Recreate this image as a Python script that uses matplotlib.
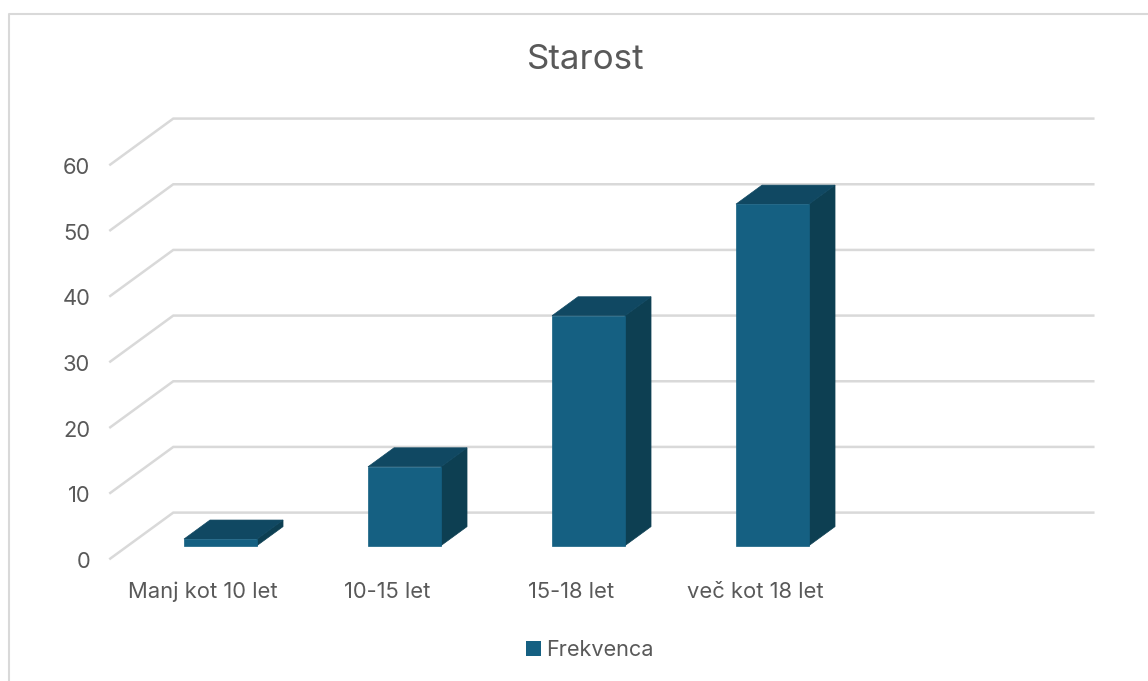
import matplotlib
matplotlib.use("Agg")
import matplotlib.pyplot as plt
from matplotlib.patches import Patch

categories = ["Manj kot 10 let", "10-15 let", "15-18 let", "več kot 18 let"]
values = [1, 12, 35, 52]
y_ticks = [0, 10, 20, 30, 40, 50, 60]
n_slots = 5  # excel left an empty fifth slot on the right

px_per_cat = 184.0
px_per_unit = 6.567
depth_x = 63 / px_per_cat
depth_y = 46 / px_per_unit
bar_width = 73 / px_per_cat
bar_front = 13 / 46
bar_back = 32 / 46

GRID = "#d9d9d9"
TEXT = "#595959"
FRONT = "#156082"
TOP = "#104862"
SIDE = "#0d3f52"

plt.rcParams["font.family"] = ["Inter", "DejaVu Sans"]

fig = plt.figure(figsize=(11.48, 6.81), dpi=100, facecolor="white")
ax = fig.add_axes([0, 0, 1, 1])
ax.set_xlim((0 - 221) / px_per_cat, (1148 - 221) / px_per_cat)
ax.set_ylim((545.6 - 681) / px_per_unit, 545.6 / px_per_unit)
ax.axis("off")


# oblique projection, d=0 is the front of the floor and d=1 the back wall
def pt(x, y, d):
    return x + (d - bar_front) * depth_x, y + (d - bar_front) * depth_y


left = -0.505
right = left + n_slots

for t in y_ticks:
    x0, y0 = pt(left, t, 0)
    x1, y1 = pt(left, t, 1)
    x2, y2 = pt(right, t, 1)
    ax.plot([x0, x1, x2], [y0, y1, y2], color=GRID, lw=1.8, solid_joinstyle="miter", zorder=1)
    ax.text(x0 - 20 / px_per_cat, y0 - 3.5 / px_per_unit, str(t), ha="right", va="center", fontsize=15.8, color=TEXT)

for i, v in enumerate(values):
    xa = i - bar_width / 2 - 0.5 / px_per_cat
    xb = i + bar_width / 2 - 0.5 / px_per_cat
    front = [pt(xa, 0, bar_front), pt(xb, 0, bar_front), pt(xb, v, bar_front), pt(xa, v, bar_front)]
    side = [pt(xb, 0, bar_front), pt(xb, 0, bar_back), pt(xb, v, bar_back), pt(xb, v, bar_front)]
    top = [pt(xa, v, bar_front), pt(xb, v, bar_front), pt(xb, v, bar_back), pt(xa, v, bar_back)]
    ax.fill(*zip(*side), color=SIDE, lw=0.5, zorder=3)
    ax.fill(*zip(*top), color=TOP, lw=0.5, zorder=3)
    ax.fill(*zip(*front), color=FRONT, lw=0.5, zorder=4)
    lx, ly = pt(i, 0, 0)
    ax.text(lx, ly - 33.5 / px_per_unit, categories[i], ha="center", va="center", fontsize=15.8, color=TEXT)

ax.text(585.5 / 1148, 1 - 60 / 681, "Starost", transform=ax.transAxes, ha="center", va="center",
        fontsize=25.2, color=TEXT)

handle = Patch(facecolor=FRONT, edgecolor="none", label="Frekvenca")
ax.legend(handles=[handle], loc="center", bbox_to_anchor=(590 / 1148, 1 - 650 / 681), frameon=False,
          fontsize=15.6, labelcolor=TEXT, handlelength=0.68, handleheight=0.68, handletextpad=0.26)

# chart area border, only top and left are inside the crop
fig.add_artist(plt.Line2D([9 / 1148, 9 / 1148, 1], [0, 1 - 14 / 681, 1 - 14 / 681], color=GRID, lw=1.5))

fig.savefig("out.png", dpi=100)
